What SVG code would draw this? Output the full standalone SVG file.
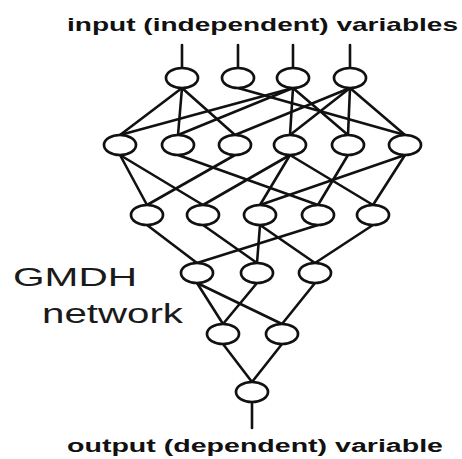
<svg xmlns="http://www.w3.org/2000/svg" width="462" height="459" viewBox="0 0 462 459">
  <style>
    .node { fill: #ffffff; stroke: #111111; stroke-width: 2.7; }
    .edge { stroke: #111111; stroke-width: 2.6; stroke-linecap: round; fill: none; }
    .cap { font-family: "Liberation Sans", Arial, sans-serif; font-weight: bold; fill: #111111; }
    .title { font-family: "Liberation Sans", Arial, sans-serif; fill: #1a1a1a; }
  </style>
  <rect width="462" height="459" fill="#ffffff"/>

  <text class="cap" x="67" y="31" font-size="19" textLength="391" lengthAdjust="spacingAndGlyphs">input (independent) variables</text>
  <text class="cap" x="67" y="452" font-size="18" textLength="376" lengthAdjust="spacingAndGlyphs">output (dependent) variable</text>
  <text class="title" x="13" y="286" font-size="26" textLength="124" lengthAdjust="spacingAndGlyphs">GMDH</text>
  <text class="title" x="42" y="323" font-size="27" textLength="141" lengthAdjust="spacingAndGlyphs">network</text>

  <g id="connectors">
    <!-- input leads -->
    <line class="edge" x1="182" y1="45" x2="182" y2="68"/>
    <line class="edge" x1="238" y1="45" x2="238" y2="68"/>
    <line class="edge" x1="293" y1="45" x2="293" y2="68"/>
    <line class="edge" x1="350" y1="45" x2="350" y2="68"/>
    <!-- layer 0 to layer 1 -->
    <line class="edge" x1="182" y1="88" x2="120" y2="135"/>
    <line class="edge" x1="182" y1="88" x2="178" y2="135"/>
    <line class="edge" x1="182" y1="88" x2="235" y2="135"/>
    <line class="edge" x1="238" y1="88" x2="405" y2="135"/>
    <line class="edge" x1="293" y1="88" x2="120" y2="135"/>
    <line class="edge" x1="293" y1="88" x2="178" y2="135"/>
    <line class="edge" x1="293" y1="88" x2="290" y2="135"/>
    <line class="edge" x1="293" y1="88" x2="348" y2="135"/>
    <line class="edge" x1="350" y1="88" x2="235" y2="135"/>
    <line class="edge" x1="350" y1="88" x2="290" y2="135"/>
    <line class="edge" x1="350" y1="88" x2="348" y2="135"/>
    <line class="edge" x1="350" y1="88" x2="405" y2="135"/>
    <!-- layer 1 to layer 2 -->
    <line class="edge" x1="120" y1="155" x2="147" y2="205"/>
    <line class="edge" x1="120" y1="155" x2="203" y2="205"/>
    <line class="edge" x1="178" y1="155" x2="318" y2="205"/>
    <line class="edge" x1="235" y1="155" x2="147" y2="205"/>
    <line class="edge" x1="290" y1="155" x2="203" y2="205"/>
    <line class="edge" x1="290" y1="155" x2="260" y2="205"/>
    <line class="edge" x1="290" y1="155" x2="373" y2="205"/>
    <line class="edge" x1="348" y1="155" x2="318" y2="205"/>
    <line class="edge" x1="405" y1="155" x2="260" y2="205"/>
    <line class="edge" x1="405" y1="155" x2="373" y2="205"/>
    <!-- layer 2 to layer 3 -->
    <line class="edge" x1="147" y1="225" x2="197" y2="263"/>
    <line class="edge" x1="318" y1="225" x2="197" y2="263"/>
    <line class="edge" x1="203" y1="225" x2="257" y2="263"/>
    <line class="edge" x1="260" y1="225" x2="257" y2="263"/>
    <line class="edge" x1="260" y1="225" x2="315" y2="263"/>
    <line class="edge" x1="373" y1="225" x2="315" y2="263"/>
    <!-- layer 3 to layer 4 -->
    <line class="edge" x1="197" y1="283" x2="223" y2="324"/>
    <line class="edge" x1="197" y1="283" x2="282" y2="324"/>
    <line class="edge" x1="257" y1="283" x2="223" y2="324"/>
    <line class="edge" x1="315" y1="283" x2="282" y2="324"/>
    <!-- layer 4 to output node -->
    <line class="edge" x1="223" y1="344" x2="252" y2="382"/>
    <line class="edge" x1="282" y1="344" x2="252" y2="382"/>
    <!-- output lead -->
    <line class="edge" x1="252" y1="402" x2="252" y2="428"/>
  </g>

  <!-- layer 0: inputs -->
  <g id="in0"><ellipse class="node" cx="182" cy="78" rx="16" ry="10"/></g>
  <g id="in1"><ellipse class="node" cx="238" cy="78" rx="16" ry="10"/></g>
  <g id="in2"><ellipse class="node" cx="293" cy="78" rx="16" ry="10"/></g>
  <g id="in3"><ellipse class="node" cx="350" cy="78" rx="16" ry="10"/></g>
  <!-- layer 1 -->
  <g id="l1n0"><ellipse class="node" cx="120" cy="145" rx="16" ry="10"/></g>
  <g id="l1n1"><ellipse class="node" cx="178" cy="145" rx="16" ry="10"/></g>
  <g id="l1n2"><ellipse class="node" cx="235" cy="145" rx="16" ry="10"/></g>
  <g id="l1n3"><ellipse class="node" cx="290" cy="145" rx="16" ry="10"/></g>
  <g id="l1n4"><ellipse class="node" cx="348" cy="145" rx="16" ry="10"/></g>
  <g id="l1n5"><ellipse class="node" cx="405" cy="145" rx="16" ry="10"/></g>
  <!-- layer 2 -->
  <g id="l2n0"><ellipse class="node" cx="147" cy="215" rx="16" ry="10"/></g>
  <g id="l2n1"><ellipse class="node" cx="203" cy="215" rx="16" ry="10"/></g>
  <g id="l2n2"><ellipse class="node" cx="260" cy="215" rx="16" ry="10"/></g>
  <g id="l2n3"><ellipse class="node" cx="318" cy="215" rx="16" ry="10"/></g>
  <g id="l2n4"><ellipse class="node" cx="373" cy="215" rx="16" ry="10"/></g>
  <!-- layer 3 -->
  <g id="l3n0"><ellipse class="node" cx="197" cy="273" rx="16" ry="10"/></g>
  <g id="l3n1"><ellipse class="node" cx="257" cy="273" rx="16" ry="10"/></g>
  <g id="l3n2"><ellipse class="node" cx="315" cy="273" rx="16" ry="10"/></g>
  <!-- layer 4 -->
  <g id="l4n0"><ellipse class="node" cx="223" cy="334" rx="16" ry="10"/></g>
  <g id="l4n1"><ellipse class="node" cx="282" cy="334" rx="16" ry="10"/></g>
  <!-- output node -->
  <g id="out"><ellipse class="node" cx="252" cy="392" rx="16" ry="10"/></g>
</svg>
